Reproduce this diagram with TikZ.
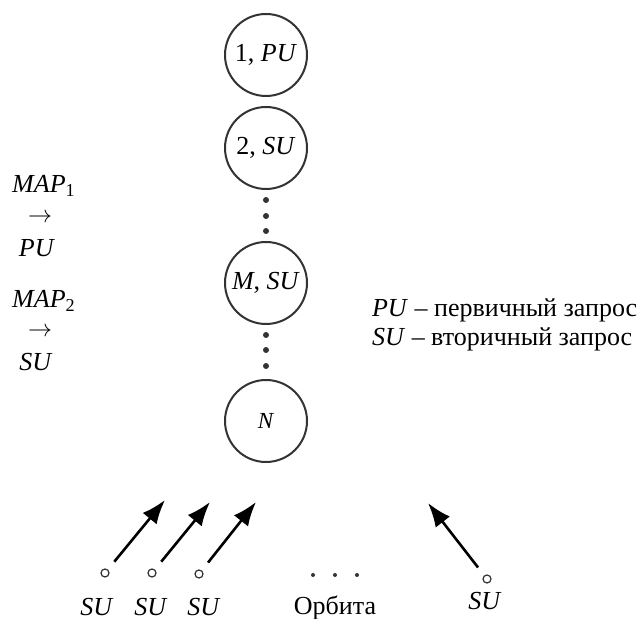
\documentclass[tikz,border=0pt]{standalone}
\usepackage{fontspec}
\setmainfont{Liberation Serif}
\usetikzlibrary{arrows.meta}

\begin{document}
\begin{tikzpicture}[
        x=0.5pt,
        y=-0.5pt,
        every node/.style={font=\fontsize{13}{15}\selectfont},
        chan/.style={circle, draw=black!80, line width=1pt, minimum size=41pt, inner sep=0pt},
        dot/.style={circle, fill=black!80, inner sep=0pt, minimum size=3pt},
        smalldot/.style={circle, fill=black!80, inner sep=0pt, minimum size=2pt},
        src/.style={circle, draw=black!80, line width=0.6pt, inner sep=0pt, minimum size=4pt},
        req/.style={-{Latex[length=12pt,width=9pt]}, line width=1.3pt, shorten <=5pt},
        >=Latex
    ]
        \useasboundingbox (0,0) rectangle (637,619);

        % channels
        \node[chan] (c1) at (266,55) {1, \textit{PU}};
        \node[chan] (c2) at (266,148) {2, \textit{SU}};
        \node[chan] (cm) at (266,283) {\textit{M}, \textit{SU}};
        \node[chan, font=\fontsize{11.5}{13}\selectfont] (cn) at (266,421) {\textit{N}};

        \foreach \y in {200,216,231,335,350,366}{
            \node[dot] (d\y) at (266,\y) {};
        }

        % left side
        \node (map1) at (44,186) {\textit{MAP}\textsubscript{1}};
        \node (ar1) at (40,218) {$\rightarrow$};
        \node (pu) at (37,248) {\textit{PU}};
        \node (map2) at (44,301) {\textit{MAP}\textsubscript{2}};
        \node (ar2) at (40,332) {$\rightarrow$};
        \node (su) at (36,362) {\textit{SU}};

        % legend
        \node[anchor=base west] (lg1) at (365,317) {\textit{PU} – первичный запрос};
        \node[anchor=base west] (lg2) at (365,346) {\textit{SU} – вторичный запрос};

        % requests on the orbit
        \foreach \i/\sx/\sy/\tx/\ty in {1/105/573/165/500, 2/152/573/210/502,
                                       3/199/574/256/502, 4/487/579/428/503}{
            \node[src] (s\i) at (\sx,\sy) {};
            \coordinate (t\i) at (\tx,\ty);
            \draw[req] (s\i) -- (t\i);
        }
        \foreach \i/\x/\y in {1/97/607, 2/151/607, 3/204/607, 4/485/601}{
            \node (l\i) at (\x,\y) {\textit{SU}};
        }

        \foreach \x in {313,335,357}{
            \node[smalldot] (o\x) at (\x,575) {};
        }
        \node[anchor=base] (orb) at (335,614) {Орбита};
    \end{tikzpicture}
\end{document}
